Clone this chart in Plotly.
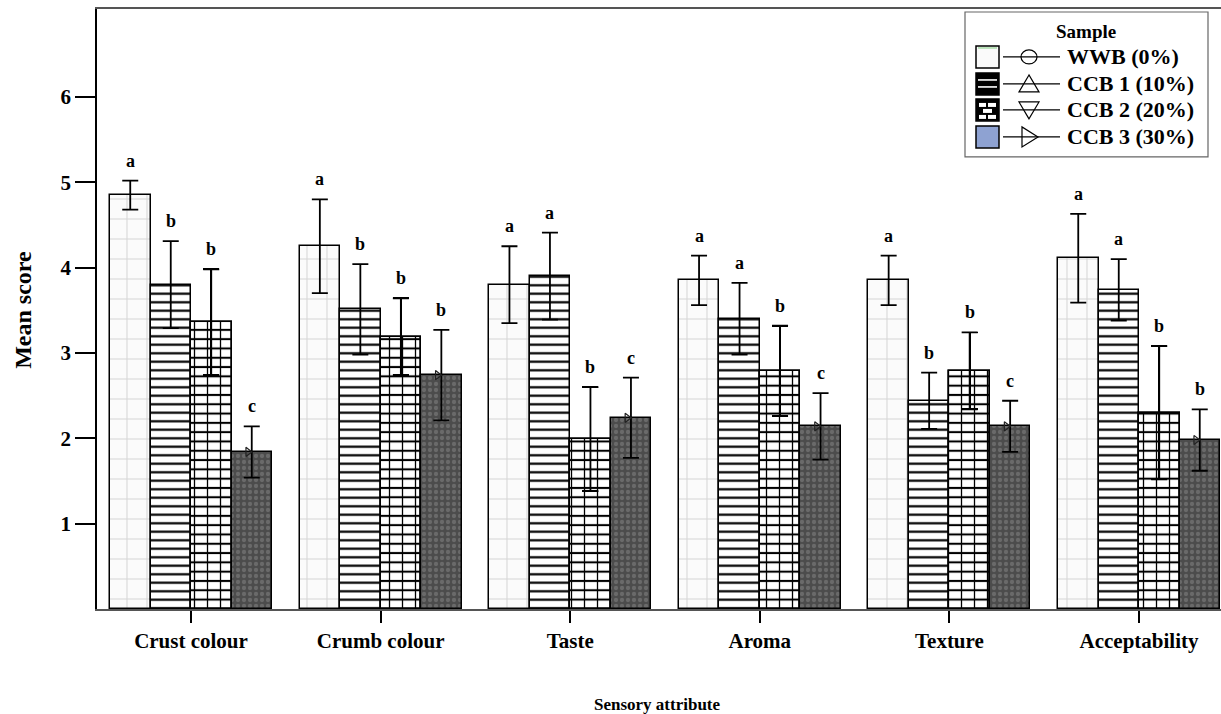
import plotly.graph_objects as go

categories = ["Crust colour", "Crumb colour", "Taste", "Aroma", "Texture", "Acceptability"]
series_names = ["WWB (0%)", "CCB 1 (10%)", "CCB 2 (20%)", "CCB 3 (30%)"]

wwb = [4.85, 4.25, 3.80, 3.85, 3.85, 4.11]
wwb_err = [0.17, 0.55, 0.45, 0.29, 0.29, 0.52]
ccb1 = [3.80, 3.51, 3.90, 3.40, 2.44, 3.74]
ccb1_err = [0.51, 0.53, 0.51, 0.42, 0.33, 0.36]
ccb2 = [3.36, 3.19, 1.99, 2.79, 2.79, 2.30]
ccb2_err = [0.62, 0.45, 0.61, 0.53, 0.45, 0.78]
ccb3 = [1.84, 2.74, 2.24, 2.14, 2.14, 1.98]
ccb3_err = [0.30, 0.53, 0.47, 0.39, 0.30, 0.36]

wwb_letters = ["a", "a", "a", "a", "a", "a"]
ccb1_letters = ["b", "b", "a", "a", "b", "a"]
ccb2_letters = ["b", "b", "b", "b", "b", "b"]
ccb3_letters = ["c", "b", "c", "c", "c", "b"]

y_ticks = [1, 2, 3, 4, 5, 6]

# ---- layout geometry (pixels) ----
W, H = 1221, 714
PLOT_L, PLOT_R, PLOT_T, PLOT_B = 97, 1221, 9, 609.4   # screen coords of plot area
ML = PLOT_L
MR = W - PLOT_R
MT = PLOT_T
MB = H - PLOT_B
PW = PLOT_R - PLOT_L
PH = PLOT_B - PLOT_T
FONT = "Liberation Serif"


def px_x(x):
    return (x - PLOT_L) / PW


def px_y(y):
    return (PLOT_B - y) / PH


bar_w = 0.2136
values = [wwb, ccb1, ccb2, ccb3]
errors = [wwb_err, ccb1_err, ccb2_err, ccb3_err]
letters = [wwb_letters, ccb1_letters, ccb2_letters, ccb3_letters]

patterns = [
    dict(shape="+", fgcolor="#d6d6d6", bgcolor="#fbfbfb", size=20, solidity=0.1, fillmode="replace"),
    dict(shape="-", fgcolor="black", bgcolor="white", size=8.5, solidity=0.26, fillmode="replace"),
    dict(shape="-", fgcolor="black", bgcolor="white", size=9.3, solidity=0.22, fillmode="replace"),
    dict(shape=".", fgcolor="#6a6a6a", bgcolor="#4c4c4c", size=6, solidity=0.4, fillmode="replace"),
]

fig = go.Figure()
for k in range(4):
    off = (k - 1.5) * bar_w
    xs = [i + off for i in range(len(categories))]
    fig.add_trace(go.Bar(
        x=xs, y=values[k], width=bar_w, name=series_names[k], showlegend=False,
        marker=dict(pattern=patterns[k], line=dict(color="black", width=1.5)),
        error_y=dict(type="data", array=errors[k], color="black", thickness=1.8, width=8),
    ))
    if k == 2:
        # vertical joints of the brick pattern (overlay on the same bars)
        fig.add_trace(go.Bar(
            x=xs, y=values[k], width=bar_w, showlegend=False, hoverinfo="skip",
            marker=dict(color="rgba(0,0,0,0)",
                        pattern=dict(shape="|", fgcolor="black", bgcolor="rgba(0,0,0,0)",
                                     size=13, solidity=0.1, fillmode="replace"),
                        line=dict(color="black", width=1.5)),
        ))
        # redraw error bars on top of the joints
        fig.add_trace(go.Bar(
            x=xs, y=values[k], width=bar_w, showlegend=False, hoverinfo="skip",
            marker=dict(color="rgba(0,0,0,0)", line=dict(width=0)),
            error_y=dict(type="data", array=errors[k], color="black", thickness=1.8, width=8),
        ))
    for i in range(len(categories)):
        fig.add_annotation(
            x=xs[i], y=values[k][i] + errors[k][i], text=letters[k][i],
            showarrow=False, yanchor="bottom", yshift=8,
            font=dict(family=FONT, size=18, color="black", weight="bold"),
        )

# small open triangle marker at CCB3 means
off3 = 1.5 * bar_w
fig.add_trace(go.Scatter(
    x=[i + off3 - 0.02 for i in range(len(categories))], y=ccb3, mode="markers",
    marker=dict(symbol="triangle-right-open", size=8, color="#222", line=dict(width=1.2)),
    showlegend=False, hoverinfo="skip",
))

# ---- custom legend ----
shapes = []
annotations = []
lx0, lx1, ly0, ly1 = 965, 1208, 12, 157
shapes.append(dict(type="rect", xref="paper", yref="paper",
                   x0=px_x(lx0), x1=px_x(lx1), y0=px_y(ly1), y1=px_y(ly0),
                   line=dict(color="#666", width=1.2), fillcolor="white", layer="above"))
annotations.append(dict(xref="paper", yref="paper", x=px_x(1086), y=px_y(32), text="Sample",
                        xanchor="center", yanchor="middle", showarrow=False,
                        font=dict(family=FONT, size=19, color="black", weight="bold")))
rows = [57, 84, 110, 137]
sx0, sx1 = 976, 999
for k, ry in enumerate(rows):
    y0, y1 = ry + 11, ry - 11
    fills = ["#fafafa", "black", "black", "#8ea2d2"]
    shapes.append(dict(type="rect", xref="paper", yref="paper", x0=px_x(sx0), x1=px_x(sx1),
                       y0=px_y(y0), y1=px_y(y1), fillcolor=fills[k],
                       line=dict(color="black", width=1.5), layer="above"))
    if k == 0:
        shapes.append(dict(type="line", xref="paper", yref="paper", x0=px_x(sx0 + 2), x1=px_x(sx1 - 2),
                           y0=px_y(ry - 9), y1=px_y(ry - 9), line=dict(color="#a8dca8", width=1.5),
                           layer="above"))
    if k == 1:
        for dy in (-4, 3):
            shapes.append(dict(type="line", xref="paper", yref="paper", x0=px_x(sx0 + 2), x1=px_x(sx1 - 2),
                               y0=px_y(ry + dy), y1=px_y(ry + dy), line=dict(color="white", width=1.6),
                               layer="above"))
    if k == 2:
        bricks = [(979, 986, -7, -3), (988, 996, -7, -3), (983, 992, -1, 3), (979, 986, 5, 9), (988, 996, 5, 9)]
        for bx0, bx1, by0, by1 in bricks:
            shapes.append(dict(type="rect", xref="paper", yref="paper", x0=px_x(bx0), x1=px_x(bx1),
                               y0=px_y(ry + by1), y1=px_y(ry + by0), fillcolor="white",
                               line=dict(width=0), layer="above"))
    shapes.append(dict(type="line", xref="paper", yref="paper", x0=px_x(1003), x1=px_x(1060),
                       y0=px_y(ry), y1=px_y(ry), line=dict(color="black", width=1.2), layer="above"))
    cx = 1029
    if k == 0:
        shapes.append(dict(type="circle", xref="paper", yref="paper", x0=px_x(cx - 8), x1=px_x(cx + 8),
                           y0=px_y(ry + 7), y1=px_y(ry - 7), line=dict(color="black", width=1.2),
                           fillcolor="rgba(0,0,0,0)", layer="above"))
    else:
        if k == 1:
            pts = [(cx, ry - 9), (cx - 10, ry + 8), (cx + 10, ry + 8)]
        elif k == 2:
            pts = [(cx, ry + 9), (cx - 10, ry - 8), (cx + 10, ry - 8)]
        else:
            pts = [(cx + 9, ry), (cx - 7, ry - 10), (cx - 7, ry + 10)]
        path = "M " + " L ".join(f"{px_x(a):.5f},{px_y(b):.5f}" for a, b in pts) + " Z"
        shapes.append(dict(type="path", xref="paper", yref="paper", path=path,
                           line=dict(color="black", width=1.2), layer="above"))
    annotations.append(dict(xref="paper", yref="paper", x=px_x(1065), y=px_y(ry), xanchor="left",
                            yanchor="middle", text=series_names[k], showarrow=False,
                            font=dict(family=FONT, size=22, color="black", weight="bold")))

# axis titles
annotations.append(dict(xref="paper", yref="paper", x=px_x(23), y=px_y(310), text="Mean score",
                        textangle=-90, xanchor="center", yanchor="middle", showarrow=False,
                        font=dict(family=FONT, size=24, color="black", weight="bold")))
annotations.append(dict(xref="paper", yref="paper", x=px_x(657), y=px_y(705), text="Sensory attribute",
                        xanchor="center", yanchor="middle", showarrow=False,
                        font=dict(family=FONT, size=17, color="black", weight="bold")))

for a in annotations:
    fig.add_annotation(**a)

x_min = (PLOT_L - 191) / 189.6
x_max = (PLOT_R - 191) / 189.6

fig.update_layout(
    width=W, height=H,
    margin=dict(l=ML, r=MR, t=MT, b=MB, pad=0),
    paper_bgcolor="white", plot_bgcolor="white",
    barmode="overlay", bargap=0,
    shapes=shapes,
    font=dict(family=FONT, color="black"),
    xaxis=dict(range=[x_min, x_max], tickvals=list(range(len(categories))), ticktext=categories,
               ticks="outside", ticklen=12, tickwidth=2.2, tickcolor="black",
               showline=True, linecolor="#555", linewidth=1.5, mirror=True, showgrid=False,
               zeroline=False, tickfont=dict(family=FONT, size=21, color="black", weight="bold")),
    yaxis=dict(range=[0, 7.03], tickvals=y_ticks, ticks="outside", ticklen=20, tickwidth=2.2,
               tickcolor="black", showline=True, linecolor="black", linewidth=1.5, showgrid=False,
               zeroline=False, tickfont=dict(family=FONT, size=21, color="black", weight="bold")),
)

fig.write_html(
    "out.html",
    config={"displayModeBar": False},
    post_script="document.body.style.margin='0';document.body.style.overflow='hidden';",
)
